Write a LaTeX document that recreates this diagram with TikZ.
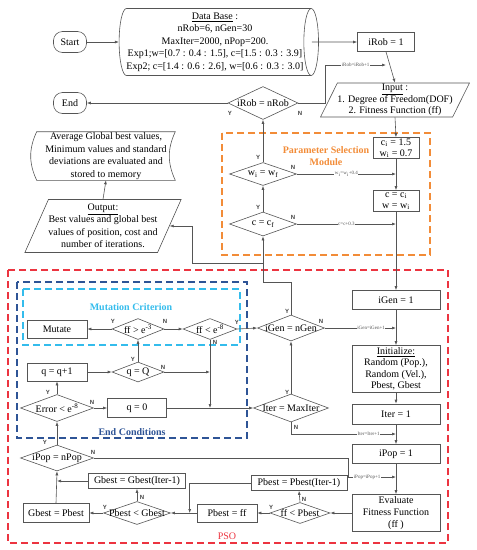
\documentclass[tikz,border=0pt]{standalone}
\usepackage{fontspec}
\setmainfont{Liberation Serif}
\setsansfont{Liberation Sans}
\usetikzlibrary{shapes.geometric,arrows.meta}

\definecolor{lineGray}{RGB}{85,85,85}
\definecolor{psoRed}{RGB}{236,52,64}
\definecolor{paramOrange}{RGB}{242,140,56}
\definecolor{endBlue}{RGB}{46,84,150}
\definecolor{mutCyan}{RGB}{52,188,236}

\newcommand{\dtxt}[1]{\makebox[0pt]{#1}}

\tikzset{
  base/.style={font=\fontsize{10}{12.5}\selectfont, draw=lineGray, line width=0.6pt, inner sep=1pt, align=center},
  box/.style={base, rectangle},
  terminal/.style={base, rectangle, rounded corners=9pt, minimum width=33pt, minimum height=21pt},
  decision/.style={base, diamond, aspect=2, inner sep=0pt},
  io/.style={base, trapezium, trapezium left angle=62, trapezium right angle=118, trapezium stretches=true, inner sep=0pt},
  dbshape/.style={base, cylinder, aspect=0.25, minimum width=67pt, minimum height=196pt, inner sep=0pt},
  memo/.style={base, draw=none, minimum width=138pt, minimum height=48pt, inner sep=0pt},
  flow/.style={->, draw=lineGray, line width=0.6pt},
  link/.style={draw=lineGray, line width=0.6pt},
  yn/.style={font=\sffamily\bfseries\fontsize{6}{7}\selectfont, text=black!75, inner sep=0pt},
  incr/.style={font=\fontsize{5}{6}\selectfont, text=lineGray, fill=white, inner sep=0.5pt},
  frame/.style={dash pattern=on 7pt off 4pt, line width=1.1pt},
  title/.style={font=\bfseries\fontsize{10}{12}\selectfont, align=center, inner sep=0pt},
}

\begin{document}
\begin{tikzpicture}[x=1pt, y=1pt, >={Latex[length=4pt,width=3pt]}]
  \useasboundingbox (0,0) rectangle (477,-550);

  % Frames
  \draw[frame, draw=paramOrange] (222,-133) rectangle (430,-255);
  \draw[frame, draw=psoRed] (8,-270) rectangle (448,-543);
  \draw[frame, draw=endBlue] (17,-282) rectangle (247,-438);
  \draw[frame, draw=mutCyan] (23,-289) rectangle (240,-345);

  \node[title, text=paramOrange] (paramtitle) at (326,-156) {Parameter Selection\\ Module};
  \node[title, text=mutCyan] (muttitle) at (131,-307) {Mutation Criterion};
  \node[title, text=endBlue] (endtitle) at (132,-432) {End Conditions};
  \node[font=\fontsize{10}{12}\selectfont, text=psoRed, inner sep=0pt] (psotitle) at (227,-536) {PSO};

  % Robot loop
  \node[terminal] (start) at (70,-42) {Start};
  \node[dbshape] (db) at (215,-42) {\underline{Data Base} :\\ nRob=6, nGen=30\\ MaxIter=2000, nPop=200.\\ Exp1;w=[0.7 : 0.4 : 1.5], c=[1.5 : 0.3 : 3.9]\\ Exp2; c=[1.4 : 0.6 : 2.6], w=[0.6 : 0.3 : 3.0]};
  \node[box, minimum width=57pt, minimum height=19pt] (irob1) at (386,-42) {iRob = 1};
  \node[io, minimum width=146pt, minimum height=34pt, font=\fontsize{10}{11.5}\selectfont] (input) at (395,-100) {\underline{Input} :\\ 1. Degree of Freedom(DOF)\\ 2. Fitness Function (ff)};
  \node[decision, minimum width=70pt, minimum height=33pt] (irobn) at (263,-103) {\dtxt{iRob = nRob}};
  \node[terminal] (end) at (70,-103) {End};
  \node[memo] (mem) at (106,-156) {Average Global best values,\\ Minimum values and standard\\ deviations are evaluated and\\ stored to memory};
  \node[io, minimum width=155pt, minimum height=53pt] (output) at (103,-226) {\underline{Output:}\\ Best values and global best\\ values of position, cost and\\ number of iterations.};
  \draw[link] (mem.north west) to[bend right=25] (mem.south west) -- (mem.south east) to[bend left=25] (mem.north east) -- cycle;

  % Parameter selection
  \node[box, minimum width=46pt, minimum height=21pt, inner sep=0pt, font=\fontsize{10}{11}\selectfont] (cw) at (396,-148) {c\textsubscript{i} = 1.5\\ w\textsubscript{i} = 0.7};
  \node[box, minimum width=46pt, minimum height=21pt, inner sep=0pt, font=\fontsize{10}{11}\selectfont] (cc) at (396,-201) {c = c\textsubscript{i}\\ w = w\textsubscript{i}};
  \node[decision, minimum width=67pt, minimum height=23pt] (wf) at (263,-174) {\dtxt{w\textsubscript{i} = w\textsubscript{f}}};
  \node[decision, minimum width=67pt, minimum height=24pt] (cf) at (263,-224) {\dtxt{c = c\textsubscript{f}}};

  % PSO column
  \node[box, minimum width=88pt, minimum height=19pt] (igen1) at (396,-300) {iGen = 1};
  \node[box, minimum width=88pt, minimum height=47pt, font=\fontsize{10}{11.5}\selectfont] (init) at (396,-369) {\underline{Initialize:}\\ Random (Pop.),\\ Random (Vel.),\\ Pbest, Gbest};
  \node[box, minimum width=88pt, minimum height=20pt] (iter1) at (396,-414) {Iter = 1};
  \node[box, minimum width=88pt, minimum height=19pt] (ipop1) at (396,-454) {iPop = 1};
  \node[box, minimum width=88pt, minimum height=37pt, font=\fontsize{10}{12}\selectfont] (eval) at (396,-513) {Evaluate\\ Fitness Function\\ (ff )};

  % Mutation and end conditions
  \node[box, minimum width=60pt, minimum height=18pt] (mutate) at (57,-329) {Mutate};
  \node[decision, minimum width=52pt, minimum height=21pt] (ffa) at (138,-329) {\dtxt{ff > e\textsuperscript{-3}}};
  \node[decision, minimum width=54pt, minimum height=21pt] (ffb) at (210,-329) {\dtxt{ff < e\textsuperscript{-8}}};
  \node[decision, minimum width=67pt, minimum height=26pt] (igenn) at (291,-328) {\dtxt{iGen = nGen}};
  \node[decision, minimum width=52pt, minimum height=20pt] (qq) at (138,-372) {\dtxt{q = Q}};
  \node[box, minimum width=60pt, minimum height=18pt] (qinc) at (57,-372) {q = q+1};
  \node[decision, minimum width=73pt, minimum height=27pt] (err) at (57,-408) {\dtxt{Error < e\textsuperscript{-8}}};
  \node[box, minimum width=59pt, minimum height=19pt] (q0) at (137,-408) {q = 0};
  \node[decision, minimum width=75pt, minimum height=28pt] (itern) at (291,-408) {\dtxt{Iter = MaxIter}};

  % Best values
  \node[decision, minimum width=73pt, minimum height=26pt] (ipopn) at (57,-458) {\dtxt{iPop = nPop}};
  \node[box, minimum width=97pt, minimum height=15pt, inner sep=0pt] (gbold) at (137,-481) {Gbest = Gbest(Iter-1)};
  \node[box, minimum width=96pt, minimum height=15pt, inner sep=0pt] (pbold) at (299,-483) {Pbest = Pbest(Iter-1)};
  \node[box, minimum width=66pt, minimum height=19pt] (gbp) at (56,-513) {Gbest = Pbest};
  \node[decision, minimum width=67pt, minimum height=23pt] (pbg) at (137,-513) {\dtxt{Pbest < Gbest}};
  \node[box, minimum width=60pt, minimum height=18pt] (pbff) at (227,-513) {Pbest = ff};
  \node[decision, minimum width=60pt, minimum height=21pt] (ffp) at (300,-513) {\dtxt{ff < Pbest}};

  % Helper points
  \coordinate (robjoin) at (irob1.south |- 0,-65);
  \coordinate (outjoin) at (cf.south |- 0,-263);
  \coordinate (popjoin) at (ipop1.south |- 0,-477);

  % Connectors
  \draw[flow] (start) -- (db);
  \draw[flow] ([xshift=-7pt]db.east) -- (irob1.west);
  \draw[flow] (irob1.south) -- (input.north);
  \draw[flow] (irobn.east) -- ++(27,0) |- (robjoin) node[incr, pos=0.75] (incrrob) {iRob=iRob+1};
  \draw[flow] (irobn.west) -- (end.east);
  \draw[flow] (output.north) -- (mem.south);
  \draw[flow] (input.south) -- (cw.north);
  \draw[flow] (cw.south) -- (cc.north);
  \draw[flow] (wf.east) -- (cw.south |- wf.east) node[incr, midway] (incrw) {w\textsubscript{i}=w\textsubscript{i}+0.4};
  \draw[flow] (cf.east) -- (cc.south |- cf.east) node[incr, midway] (incrc) {c=c+0.3};
  \draw[flow] (cf.north) -- (wf.south);
  \draw[flow] (wf.north) -- (irobn.south);
  \draw[flow] (cc.south) -- (igen1.north);
  \draw[flow] (igenn.north) -- ++(0,32) -| (cf.south);
  \draw[flow] (outjoin) -- ++(-71,0) |- (output.east);
  \draw[flow] (igenn.east) -- (igen1.south |- igenn.east) node[incr, pos=0.65] (incrgen) {iGen=iGen+1};
  \draw[flow] (igen1.south) -- (init.north);
  \draw[flow] (init.south) -- (iter1.north);
  \draw[flow] (iter1.south) -- (ipop1.north);
  \draw[flow] (ipop1.south) -- (eval.north);
  \draw[flow] (itern.south) |- (iter1.south |- 0,-434) node[incr, pos=0.87] (incriter) {Iter=Iter+1};
  \draw[flow] (itern.north) -- (igenn.south);
  \draw[flow] (ffb.east) -- (igenn.west);
  \draw[flow] (ffa.west) -- (mutate.east);
  \draw[flow] (ffa.east) -- (ffb.west);
  \draw[flow] (qq.north) -- (ffa.south);
  \draw[flow] (qinc.east) -- (qq.west);
  \draw[flow] (qq.east) -- (ffb.south |- qq.east);
  \draw[flow] (ffb.south) -- (ffb.south |- q0.east);
  \draw[flow] (err.north) -- (qinc.south);
  \draw[flow] (err.east) -- (q0.west);
  \draw[flow] (q0.east) -- (itern.west);
  \draw[flow] (ipopn.north) -- (err.south);
  \draw[flow] (ipopn.east) -- ++(254,0) |- (popjoin) node[incr, pos=0.7] (incrpop) {iPop=iPop+1};
  \draw[flow] (eval.west) -- (ffp.east);
  \draw[flow] (ffp.north) -- (pbold.south);
  \draw[flow] (ffp.west) -- (pbff.east);
  \draw[flow] (pbff.west) -- (pbg.east);
  \draw[flow] (pbold.west) -| ([xshift=-7pt]pbff.west);
  \draw[flow] (pbg.north) -- (gbold.south);
  \draw[flow] (pbg.west) -- (gbp.east);
  \draw[flow] (gbp.north) -- (ipopn.south);
  \draw[flow] (gbold.west) -- (ipopn.south |- gbold.west);

  % Y / N labels
  \node[yn] (irobnY) at (230,-113) {Y};
  \node[yn] (irobnN) at (300,-113) {N};
  \node[yn] (wfY) at (258,-157) {Y};
  \node[yn] (wfN) at (293,-167) {N};
  \node[yn] (cfY) at (258,-207) {Y};
  \node[yn] (cfN) at (293,-217) {N};
  \node[yn] (ffaY) at (113,-321) {Y};
  \node[yn] (ffaN) at (165,-321) {N};
  \node[yn] (ffbY) at (237,-322) {Y};
  \node[yn] (ffbN) at (215,-342) {N};
  \node[yn] (igennY) at (287,-311) {Y};
  \node[yn] (igennN) at (321,-321) {N};
  \node[yn] (qqY) at (133,-359) {Y};
  \node[yn] (qqN) at (163,-367) {N};
  \node[yn] (errY) at (48,-392) {Y};
  \node[yn] (errN) at (92,-402) {N};
  \node[yn] (iternY) at (287,-392) {Y};
  \node[yn] (iternN) at (296,-427) {N};
  \node[yn] (ipopnY) at (45,-442) {Y};
  \node[yn] (ipopnN) at (93,-452) {N};
  \node[yn] (pbgY) at (105,-507) {Y};
  \node[yn] (pbgN) at (142,-497) {N};
  \node[yn] (ffpY) at (271,-507) {Y};
  \node[yn] (ffpN) at (304,-499) {N};
\end{tikzpicture}
\end{document}
